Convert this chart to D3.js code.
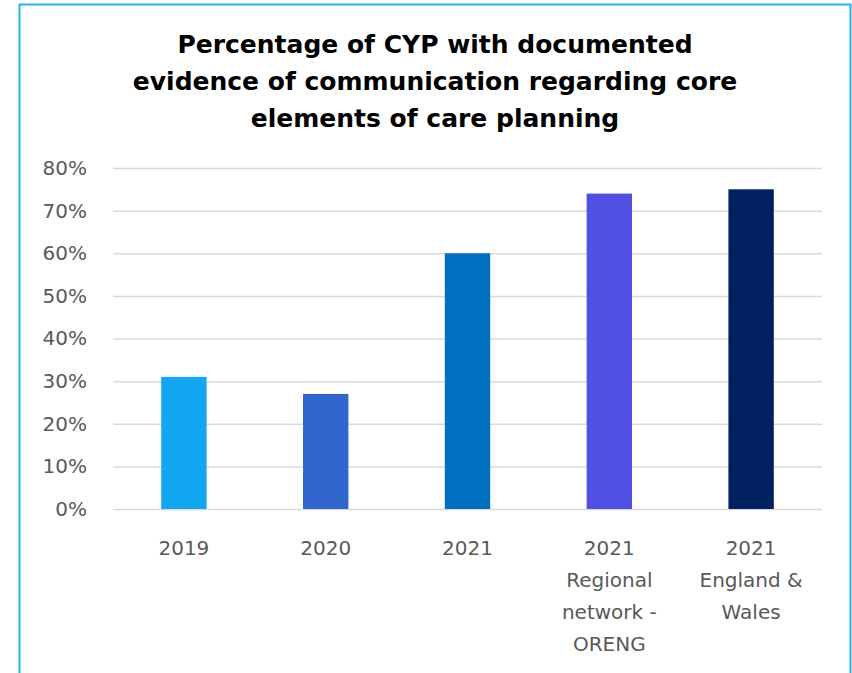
<!DOCTYPE html>
<html>
<head>
<meta charset="utf-8">
<script src="https://cdn.jsdelivr.net/npm/d3@7"></script>
<style>
  body { margin: 0; background: #fff; }
  svg { display: block; font-family: "DejaVu Sans", sans-serif; }
</style>
</head>
<body>
<div id="chart"></div>
<script>
// data
const categories = [
  ["2019"],
  ["2020"],
  ["2021"],
  ["2021", "Regional", "network -", "ORENG"],
  ["2021", "England &", "Wales"]
];
const values = [31, 27, 60, 74, 75];
const barColors = ["#13a6f1", "#3167cd", "#0070c0", "#5050e2", "#002060"];
const yTicks = [0, 10, 20, 30, 40, 50, 60, 70, 80];
const titleLines = [
  "Percentage of CYP with documented",
  "evidence of communication regarding core",
  "elements of care planning"
];

const width = 852;
const height = 673;
const margin = {top: 168, right: 30, bottom: 164, left: 113};
const font = '"DejaVu Sans", sans-serif';

const svg = d3.select('#chart').append('svg')
    .attr('width', width)
    .attr('height', height);

// frame (bottom edge is cut off in the original)
svg.append('path')
    .attr('d', `M19.5,${height} V4.5 H850.5 V${height}`)
    .attr('fill', 'none')
    .attr('stroke', '#29b0f0')
    .attr('stroke-width', 2);

svg.append('text')
    .attr('text-anchor', 'middle')
    .attr('font-weight', 'bold')
    .attr('font-size', '25px')
    .attr('fill', '#000')
    .selectAll('tspan')
    .data(titleLines)
    .join('tspan')
    .attr('x', 435)
    .attr('y', (d, i) => 53 + i * 37)
    .text(d => d);

const x = d3.scaleBand()
    .domain(d3.range(categories.length))
    .range([margin.left, width - margin.right])
    .paddingInner(0.68)
    .paddingOuter(0.34);

const y = d3.scaleLinear()
    .domain([0, 80])
    .range([height - margin.bottom, margin.top]);

// gridlines + y labels
const yAxis = g => g
    .attr('transform', `translate(${margin.left},0)`)
    .call(d3.axisLeft(y).tickValues(yTicks).tickFormat(d => d + '%')
        .tickSize(-(width - margin.right - margin.left)).tickPadding(26))
    .call(g => g.select('.domain').remove())
    .call(g => g.selectAll('.tick line')
        .attr('stroke', '#d9d9d9')
        .attr('stroke-width', 1.5))
    .call(g => g.selectAll('.tick text')
        .attr('font-size', '20px')
        .attr('font-family', font)
        .attr('fill', '#595959'));

svg.append('g').call(yAxis);

svg.append('g')
    .selectAll('rect')
    .data(values)
    .join('rect')
    .attr('x', (d, i) => x(i))
    .attr('width', x.bandwidth())
    .attr('y', d => y(d))
    .attr('height', d => y(0) - y(d))
    .attr('fill', (d, i) => barColors[i]);

// category labels, one line per tspan
const xAxis = g => g
    .attr('transform', `translate(0,${height - margin.bottom})`)
    .call(d3.axisBottom(x).tickSize(0).tickFormat(''))
    .call(g => g.select('.domain').remove())
    .call(g => g.selectAll('.tick').each(function(i) {
        d3.select(this).append('text')
            .attr('text-anchor', 'middle')
            .attr('font-size', '20px')
            .attr('font-family', font)
            .attr('fill', '#595959')
            .selectAll('tspan')
            .data(categories[i])
            .join('tspan')
            .attr('x', 0)
            .attr('y', (d, k) => 46 + k * 32)
            .text(d => d);
    }));

svg.append('g').call(xAxis);
</script>
</body>
</html>
